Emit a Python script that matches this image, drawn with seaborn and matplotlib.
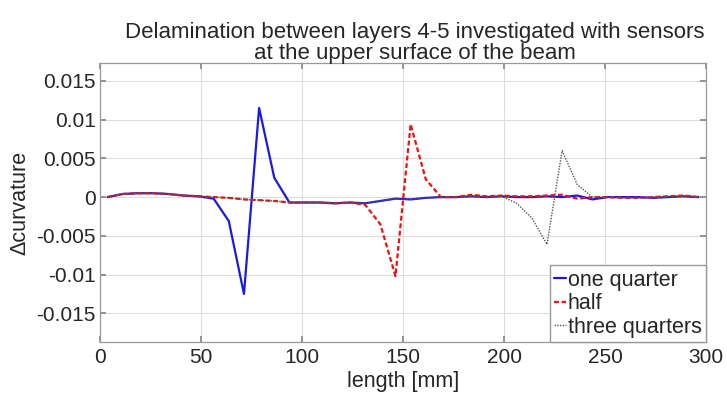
import matplotlib
matplotlib.use("Agg")
import matplotlib.pyplot as plt
import seaborn as sns
import pandas as pd

length_mm = [3.75, 11.25, 18.75, 26.25, 33.75, 41.25, 48.75, 56.25, 63.75, 71.25,
             78.75, 86.25, 93.75, 101.25, 108.75, 116.25, 123.75, 131.25, 138.75, 146.25,
             153.75, 161.25, 168.75, 176.25, 183.75, 191.25, 198.75, 206.25, 213.75, 221.25,
             228.75, 236.25, 243.75, 251.25, 258.75, 266.25, 273.75, 281.25, 288.75, 296.25]

one_quarter = [0.0, 0.0004, 0.0005, 0.0005, 0.0004, 0.0002, 0.0001, -0.0002, -0.0031, -0.0125,
               0.0115, 0.0025, -0.0007, -0.0007, -0.0007, -0.0008, -0.0007, -0.0008, -0.0005, -0.0002,
               -0.0003, -0.0001, 0.0, 0.0, 0.0001, 0.0, 0.0001, 0.0, 0.0, 0.0001,
               0.0, 0.0002, -0.0003, 0.0, 0.0, 0.0, -0.0001, 0.0, 0.0001, 0.0]

half = [0.0, 0.0004, 0.0005, 0.0005, 0.0004, 0.0002, 0.0001, 0.0, -0.0001, -0.0003,
        -0.0004, -0.0005, -0.0007, -0.0007, -0.0007, -0.0008, -0.0007, -0.001, -0.0035, -0.0102,
        0.0094, 0.0023, 0.0, 0.0, 0.0003, 0.0001, 0.0002, 0.0001, 0.0001, 0.0002,
        0.0003, -0.0002, 0.0, 0.0, -0.0001, -0.0001, 0.0, 0.0001, 0.0002, 0.0]

three_quarters = [0.0, 0.0004, 0.0005, 0.0005, 0.0004, 0.0002, 0.0001, 0.0, -0.0001, -0.0003,
                  -0.0004, -0.0005, -0.0007, -0.0007, -0.0007, -0.0008, -0.0007, -0.0008, -0.0005, -0.0002,
                  -0.0003, -0.0001, 0.0, 0.0, 0.0001, 0.0, 0.0001, -0.0008, -0.0027, -0.0061,
                  0.006, 0.0016, 0.0, 0.0, -0.0001, -0.0001, 0.0, 0.0001, 0.0001, 0.0]

series_names = ["one quarter", "half", "three quarters"]
x_ticks = [0, 50, 100, 150, 200, 250, 300]
y_ticks = [-0.015, -0.01, -0.005, 0, 0.005, 0.01, 0.015]
y_tick_labels = ["-0.015", "-0.01", "-0.005", "0", "0.005", "0.01", "0.015"]

sns.set_theme(style="white")
plt.rcParams["font.family"] = ["Liberation Sans", "DejaVu Sans"]

fig = plt.figure(figsize=(7.27, 3.94), dpi=100)
ax = fig.add_axes([0.1376, 0.132, 0.8336, 0.708])

styles = [
    dict(color="#1a1ae6", linestyle="-", linewidth=1.6),
    dict(color="#ee1111", linestyle=(0, (2.2, 1.2)), linewidth=1.6),
    dict(color="#555555", linestyle=(0, (1, 1)), linewidth=1.0),
]
for name, vals, st in zip(series_names, [one_quarter, half, three_quarters], styles):
    df = pd.DataFrame({"length": length_mm, "dc": vals})
    sns.lineplot(data=df, x="length", y="dc", ax=ax, label=name, **st)

ax.set_xlim(0, 300)
ax.set_ylim(-0.0187, 0.0173)
ax.set_xticks(x_ticks)
ax.set_yticks(y_ticks)
ax.set_yticklabels(y_tick_labels)
ax.grid(True, color="#dddddd", linewidth=0.8)
ax.tick_params(axis="both", labelsize=15, direction="in", length=4, color="#888888",
               top=True, right=True, bottom=True, left=True, pad=4)
ax.tick_params(axis="y", pad=3)
for sp in ax.spines.values():
    sp.set_color("#999999")
    sp.set_linewidth(0.9)

ax.set_xlabel("length [mm]", fontsize=15.5, labelpad=3)
ax.set_ylabel("Δcurvature", fontsize=15.5, labelpad=4)
ax.set_title("Delamination between layers 4-5 investigated with sensors\nat the upper surface of the beam",
             fontsize=16, linespacing=0.98, pad=3, x=0.52)

leg = ax.legend(loc="lower right", fontsize=15.5, handlelength=0.55, handletextpad=0.1,
                borderaxespad=0.0, borderpad=0.2, labelspacing=0.12, fancybox=False,
                framealpha=1.0, edgecolor="#999999")

fig.savefig("out.png", dpi=100)
